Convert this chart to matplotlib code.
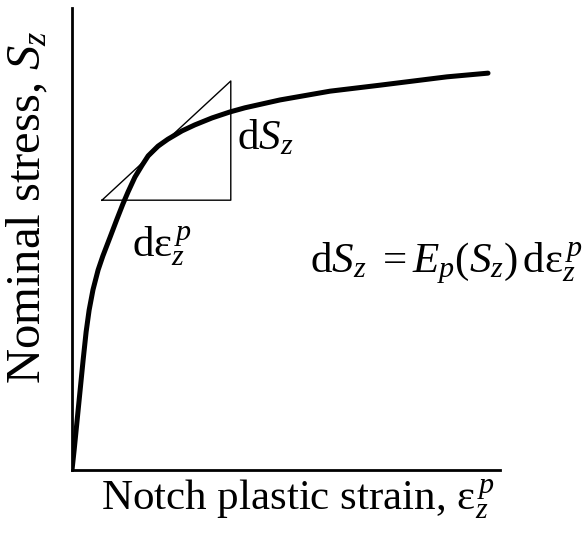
import matplotlib.pyplot as plt

plt.rcParams['font.family'] = ['Liberation Serif', 'DejaVu Serif']
plt.rcParams['mathtext.fontset'] = 'custom'
plt.rcParams['mathtext.rm'] = 'Liberation Serif'
plt.rcParams['mathtext.it'] = 'Liberation Serif:italic'

# stress-strain curve (normalised units)
strain = [0.000, 0.005, 0.012, 0.019, 0.026, 0.033, 0.040, 0.049, 0.061,
          0.072, 0.089, 0.105, 0.119, 0.131, 0.147, 0.164, 0.178, 0.201,
          0.224, 0.257, 0.287, 0.327, 0.369, 0.404, 0.486, 0.603, 0.720,
          0.876, 0.972]
stress = [0.000, 0.043, 0.108, 0.173, 0.238, 0.299, 0.346, 0.390, 0.433,
          0.463, 0.504, 0.543, 0.576, 0.602, 0.634, 0.660, 0.680, 0.701,
          0.716, 0.734, 0.747, 0.762, 0.775, 0.784, 0.801, 0.820, 0.833,
          0.851, 0.859]

# tangent triangle corners
tri_x = [0.070, 0.371, 0.371, 0.070]
tri_y = [0.584, 0.842, 0.584, 0.584]

fig = plt.figure(figsize=(5.87, 5.40), dpi=100)
ax = fig.add_axes([72 / 587, 70 / 540, 428 / 587, 462 / 540])

ax.plot(strain, stress, color='black', lw=3.6, solid_capstyle='round',
        solid_joinstyle='round')
ax.plot(tri_x, tri_y, color='black', lw=1.0)

ax.set_xlim(0, 1)
ax.set_ylim(0, 1)
for side in ('top', 'right'):
    ax.spines[side].set_visible(False)
for side in ('left', 'bottom'):
    ax.spines[side].set_linewidth(2)
ax.set_xticks([])
ax.set_yticks([])

fs = 31
ax.text(0.386, 0.695, r'$\mathrm{d}S_z$', fontsize=fs, ha='left', va='baseline')
ax.text(0.140, 0.463, r'$\mathrm{d\varepsilon}_z^{\,p}$', fontsize=fs,
        ha='left', va='baseline')
ax.text(0.556, 0.429, r'$\mathrm{d}S_z\ =E_p(S_z)\,\mathrm{d\varepsilon}_z^{\,p}$',
        fontsize=fs, ha='left', va='baseline', clip_on=False)

fig.text(0.508, 0.056, r'Notch plastic strain, $\mathrm{\varepsilon}_z^{\,p}$',
         fontsize=31, ha='center', va='baseline')
fig.text(0.048, 0.617, r'Nominal stress, $S_z$', fontsize=35, ha='center',
         va='center', rotation=90)

fig.savefig('out.png', dpi=100, facecolor='white')
